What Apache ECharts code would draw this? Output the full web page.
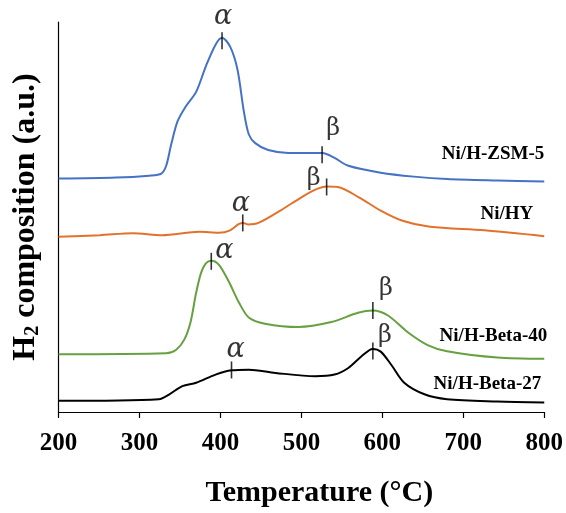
<!DOCTYPE html>
<html>
<head>
<meta charset="utf-8">
<script src="https://cdn.jsdelivr.net/npm/echarts@6/dist/echarts.min.js"></script>
<style>html,body{margin:0;padding:0;background:#fff}#c{width:566px;height:513px}</style>
</head>
<body>
<div id="c"></div>
<script>
// ---- data (temperature in °C, intensity in a.u. incl. vertical offset) ----
const xTicks = [200, 300, 400, 500, 600, 700, 800];
const seriesNames = ['Ni/H-ZSM-5', 'Ni/HY', 'Ni/H-Beta-40', 'Ni/H-Beta-27'];

const zsm5T = [200,271,312,327,333,339,347,357,370,382,394,402,412,421,429,435,443,459,484,508,526,541,558,598,639,680,742,800];
const zsm5V = [237,238,240,242,250,271,295,310,325,351,373,380,371,348,305,282,273,266,263,263,263,258,250,243,239,236.5,235,234];

const hyT = [200,251,292,328,374,398,412,423,428,434,447,474,500,518,531,545,571,598,624,659,726,800];
const hyV = [178,179.5,181.5,179.5,183,182,184.5,191,192,190.5,192,204.5,218,226,229,228.5,218,204.5,194.5,188,184.5,178.5];

const beta40T = [200,333,345,355,363,370,376,382,389,398,410,423,435,455,496,537,570,588,607,631,656,680,742,800];
const beta40V = [58.7,59.7,63,73,91,121,141,151,153.7,149.7,133,111,96,89.7,86.3,91.3,100.7,103,98,81.3,68,61.7,55.3,54];

const beta27T = [200,324,337,353,370,394,414,435,468,517,541,558,574,588,598,611,627,652,680,742,800];
const beta27V = [11.3,13,18,26.3,29.7,38,42.3,43,39.7,36.3,38,44.7,56.3,64,61.3,48,29.7,18,13,10.7,9.7];

// peak markers: [temperature, intensity], label text
const markerT = [402, 525.6, 427.6, 531.2, 388.7, 588.3, 413.7, 588.3];
const markerV = [377, 261.3, 192, 228.5, 153, 103, 42.7, 62];
const markerText = ['α','β','α','β','α','β','α','β'];

// ---- styling (kept separate from the data) ----
const colors = ['#4472C4', '#E2722B', '#66A040', '#000000'];
const markerLabelOffset = [[1,-24],[11,-26],[-2,-19],[-13,-8],[13,-10],[13,-22],[4,-20],[12,-15]];
const endLabelOffset = [[0,-27],[-11,-22],[3,-23],[-3,-18]];

const zip = (a, b) => a.map((t, i) => [t, b[i]]);
const curves = [zip(zsm5T, zsm5V), zip(hyT, hyV), zip(beta40T, beta40V), zip(beta27T, beta27V)];

const serif = '"Liberation Serif", "Times New Roman", serif';

const lineSeries = curves.map((d, i) => ({
  name: seriesNames[i],
  type: 'line',
  data: d,
  smooth: 0.3,
  showSymbol: false,
  lineStyle: { color: colors[i], width: 2 },
  itemStyle: { color: colors[i] },
  endLabel: {
    show: true,
    formatter: seriesNames[i],
    distance: 0,
    align: 'right',
    verticalAlign: 'middle',
    offset: endLabelOffset[i],
    fontFamily: serif,
    fontWeight: 'bold',
    fontSize: 19,
    color: '#000'
  },
  z: 2
}));

const markerSeries = {
  type: 'scatter',
  symbol: 'rect',
  symbolSize: [1.6, 17],
  itemStyle: { color: '#000' },
  silent: true,
  z: 5,
  data: markerT.map((t, i) => ({
    value: [t, markerV[i]],
    label: {
      show: true,
      formatter: markerText[i],
      position: 'inside',
      offset: markerLabelOffset[i],
      fontFamily: '"DejaVu Serif", serif',
      fontStyle: markerText[i] === 'α' ? 'italic' : 'normal',
      fontSize: markerText[i] === 'α' ? 27 : 24,
      color: '#000'
    }
  }))
};

const chart = echarts.init(document.getElementById('c'));
chart.setOption({
  animation: false,
  backgroundColor: '#fff',
  grid: { left: 58.5, right: 18.4, top: 22, bottom: 95, containLabel: false },
  xAxis: {
    type: 'value',
    min: xTicks[0],
    max: xTicks[xTicks.length - 1],
    interval: 100,
    name: 'Temperature (°C)',
    nameLocation: 'middle',
    nameGap: 66,
    nameTextStyle: { fontFamily: serif, fontWeight: 'bold', fontSize: 30, color: '#000', padding: [0, 0, 0, 36] },
    axisLine: { show: true, onZero: false, lineStyle: { color: '#000', width: 1.2 } },
    axisTick: { show: true, length: 6, lineStyle: { color: '#000', width: 1.2 } },
    axisLabel: { fontFamily: serif, fontWeight: 'bold', fontSize: 25, color: '#000', margin: 19 },
    splitLine: { show: false }
  },
  yAxis: {
    type: 'value',
    min: 0,
    max: 396,
    name: '{a|H}{s|2}{a| composition (a.u.)}',
    nameLocation: 'middle',
    nameRotate: 90,
    nameGap: 16,
    nameTextStyle: {
      rich: {
        a: { fontFamily: serif, fontWeight: 'bold', fontSize: 32, color: '#000' },
        s: { fontFamily: serif, fontWeight: 'bold', fontSize: 20, color: '#000', padding: [14, 0, 0, 0] }
      }
    },
    axisLine: { show: true, lineStyle: { color: '#000', width: 1.2 } },
    axisTick: { show: false },
    axisLabel: { show: false },
    splitLine: { show: false }
  },
  series: [...lineSeries, markerSeries]
});
</script>
</body>
</html>
